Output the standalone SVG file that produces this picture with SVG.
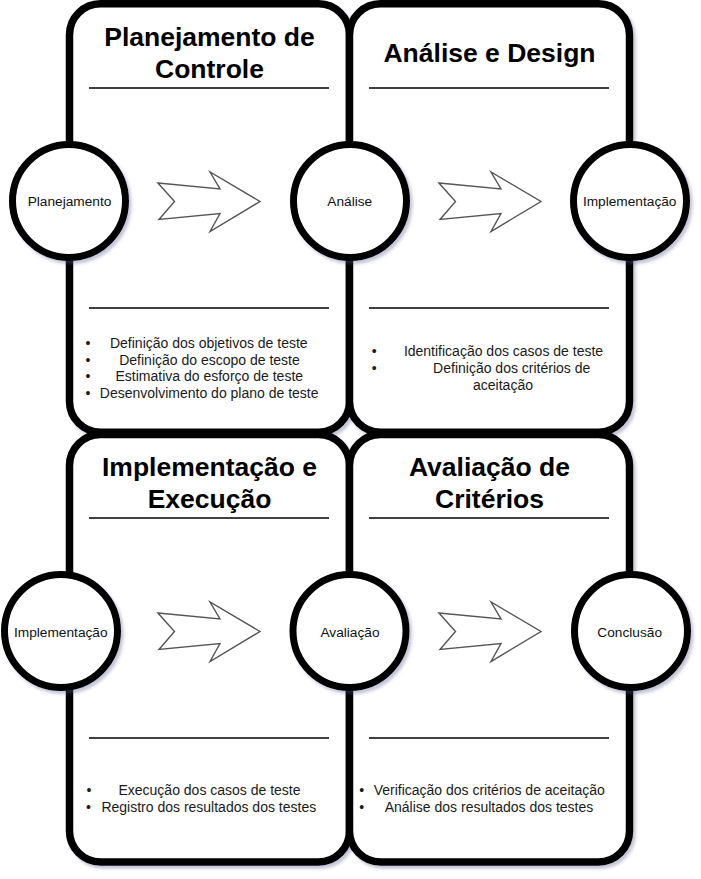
<svg xmlns="http://www.w3.org/2000/svg" width="701" height="879" viewBox="0 0 701 879">
<defs>
<filter id="sh" x="-10%" y="-10%" width="125%" height="125%">
<feDropShadow dx="2.5" dy="3" stdDeviation="1.8" flood-color="#5a5a8a" flood-opacity="0.35"/>
</filter>
<path id="arrow" d="M158,183 L220,189 L210,172 L260,201.5 L210,231.5 L220,213.5 L159,219.5 L174.5,201.5 Z"/>
</defs>
<style>
.panel{fill:#fff;stroke:#000;stroke-width:7.5;filter:url(#sh)}
.circ{fill:#fff;stroke:#000;stroke-width:7;filter:url(#sh)}
.div{stroke:#000;stroke-width:1.5}
.title{font-family:"Liberation Sans",Arial,sans-serif;font-weight:bold;font-size:26.5px;fill:#000;text-anchor:middle}
.lbl{font-family:"Liberation Sans",Arial,sans-serif;font-size:13.7px;fill:#111;text-anchor:middle}
.li{font-family:"Liberation Sans",Arial,sans-serif;font-size:14px;fill:#1a1a1a;text-anchor:middle}
.arr{fill:#fff;stroke:#555;stroke-width:1.4;stroke-linejoin:miter}
</style>
<rect width="701" height="879" fill="#fff"/>

<g id="panel-planejamento">
<rect class="panel" x="69.5" y="3.8" width="280" height="428.5" rx="31" ry="31"/>
<line class="div" x1="89" y1="88" x2="329" y2="88"/>
<line class="div" x1="89" y1="308" x2="329" y2="308"/>
<text class="title" x="209.5" y="45.5">Planejamento de</text>
<text class="title" x="209.5" y="77.5">Controle</text>
<text class="li" x="88" y="348">•</text>
<text class="li" x="208.8" y="348">Definição dos objetivos de teste</text>
<text class="li" x="88" y="364.7">•</text>
<text class="li" x="209.5" y="364.7">Definição do escopo de teste</text>
<text class="li" x="88" y="381.4">•</text>
<text class="li" x="209.3" y="381.4">Estimativa do esforço de teste</text>
<text class="li" x="88" y="398">•</text>
<text class="li" x="209.2" y="398">Desenvolvimento do plano de teste</text>
</g>

<g id="panel-analise-design">
<rect class="panel" x="349.5" y="3.8" width="280" height="428.5" rx="31" ry="31"/>
<line class="div" x1="369" y1="88" x2="609" y2="88"/>
<line class="div" x1="369" y1="308" x2="609" y2="308"/>
<text class="title" x="489.5" y="62.3">Análise e Design</text>
<text class="li" x="374.3" y="356">•</text>
<text class="li" x="503.5" y="356">Identificação dos casos de teste</text>
<text class="li" x="374.3" y="373">•</text>
<text class="li" x="511.7" y="373">Definição dos critérios de</text>
<text class="li" x="503" y="390">aceitação</text>
</g>

<g id="panel-implementacao-execucao">
<rect class="panel" x="69.5" y="434.5" width="280" height="427.5" rx="31" ry="31"/>
<line class="div" x1="89" y1="518" x2="329" y2="518"/>
<line class="div" x1="89" y1="738" x2="329" y2="738"/>
<text class="title" x="209.5" y="475.7">Implementação e</text>
<text class="title" x="209.5" y="507.5">Execução</text>
<text class="li" x="89" y="795">•</text>
<text class="li" x="209.5" y="795">Execução dos casos de teste</text>
<text class="li" x="88.5" y="811.7">•</text>
<text class="li" x="208.8" y="811.7">Registro dos resultados dos testes</text>
</g>

<g id="panel-avaliacao-criterios">
<rect class="panel" x="349.5" y="434.5" width="280" height="427.5" rx="31" ry="31"/>
<line class="div" x1="369" y1="518" x2="609" y2="518"/>
<line class="div" x1="369" y1="738" x2="609" y2="738"/>
<text class="title" x="489.5" y="475.7">Avaliação de</text>
<text class="title" x="489.5" y="507.5">Critérios</text>
<text class="li" x="361.7" y="795">•</text>
<text class="li" x="489.2" y="795">Verificação dos critérios de aceitação</text>
<text class="li" x="361.7" y="811.7">•</text>
<text class="li" x="489" y="811.7">Análise dos resultados dos testes</text>
</g>

<g id="connectors">
<use href="#arrow" class="arr"/>
<use href="#arrow" class="arr" transform="translate(281,0)"/>
<use href="#arrow" class="arr" transform="translate(0,430)"/>
<use href="#arrow" class="arr" transform="translate(281,430)"/>
</g>

<g id="node-planejamento">
<circle class="circ" cx="69" cy="201" r="56.5"/>
<text class="lbl" x="69.5" y="205.7">Planejamento</text>
</g>
<g id="node-analise">
<circle class="circ" cx="350" cy="201" r="56.5"/>
<text class="lbl" x="349.8" y="205.7">Análise</text>
</g>
<g id="node-implementacao-1">
<circle class="circ" cx="630" cy="201" r="56.5"/>
<text class="lbl" x="629.7" y="205.7">Implementação</text>
</g>
<g id="node-implementacao-2">
<circle class="circ" cx="61" cy="631" r="56.5"/>
<text class="lbl" x="60.8" y="636.7">Implementação</text>
</g>
<g id="node-avaliacao">
<circle class="circ" cx="349.5" cy="631" r="56.5"/>
<text class="lbl" x="350" y="636.7">Avaliação</text>
</g>
<g id="node-conclusao">
<circle class="circ" cx="631" cy="631" r="56.5"/>
<text class="lbl" x="629.7" y="636.7">Conclusão</text>
</g>
</svg>
